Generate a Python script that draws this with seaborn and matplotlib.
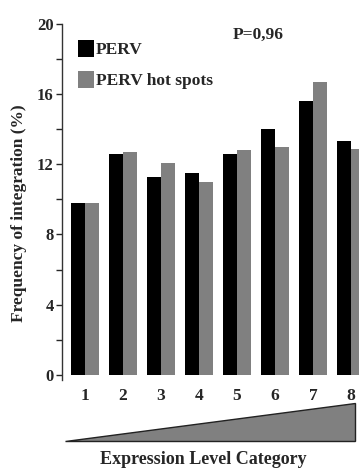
import matplotlib
matplotlib.use("Agg")
import matplotlib.pyplot as plt
from matplotlib.patches import Polygon
from matplotlib.ticker import MultipleLocator
import seaborn as sns
import pandas as pd

# Data
categories = ['1', '2', '3', '4', '5', '6', '7', '8']
perv = [9.8, 12.6, 11.3, 11.5, 12.6, 14.0, 15.6, 13.3]
perv_hot_spots = [9.8, 12.7, 12.1, 11.0, 12.8, 13.0, 16.7, 12.9]
series_names = ['PERV', 'PERV hot spots']
series_colors = ['#000000', '#808080']

df = pd.DataFrame({
    'category': categories * 2,
    'value': perv + perv_hot_spots,
    'series': [series_names[0]] * len(categories) + [series_names[1]] * len(categories),
})

sns.set_style('ticks')
plt.rcParams['font.family'] = ['Liberation Serif', 'DejaVu Serif']
plt.rcParams['font.weight'] = 'bold'

W, H = 359, 468
fig = plt.figure(figsize=(W / 100, H / 100), dpi=100)
ax = fig.add_axes([62 / W, 1 - 380 / H, (W - 62) / W, 356 / H])

sns.barplot(data=df, x='category', y='value', hue='series',
            palette=dict(zip(series_names, series_colors)),
            width=0.74, saturation=1, linewidth=0, ax=ax)

ax.set_xlim(-0.605, 7.21)
ax.set_ylim(-0.3, 20)
ax.yaxis.set_major_locator(MultipleLocator(4))
ax.yaxis.set_minor_locator(MultipleLocator(2))
ax.tick_params(axis='y', which='both', direction='out', length=4, width=1, pad=2,
               labelsize=12)
ax.tick_params(axis='x', length=0, pad=6, labelsize=12.5)
for lbl in ax.get_xticklabels() + ax.get_yticklabels():
    lbl.set_fontweight('bold')

for s in ['top', 'right', 'bottom']:
    ax.spines[s].set_visible(False)
ax.spines['left'].set_linewidth(1)
ax.spines['left'].set_color('#333333')

ax.set_xlabel('')
ax.set_ylabel('Frequency of integration (%)', fontsize=12.5, fontweight='bold')
ax.yaxis.set_label_coords(-0.118, 0.469)

handles, labels = ax.get_legend_handles_labels()
ax.legend(handles, labels, loc='upper left', bbox_to_anchor=(0.03, 0.975),
          frameon=False, handlelength=0.95, handleheight=1.1,
          handletextpad=0.1, labelspacing=0.75, borderaxespad=0,
          prop={'weight': 'bold', 'size': 12.5})

fig.text(233 / W, 1 - 35 / H, 'P=0,96', fontsize=12.5, fontweight='bold',
         ha='left', va='center')

# Expression level wedge under the x axis
tri = Polygon([(65 / W, 1 - 441 / H), (355 / W, 1 - 441 / H), (355 / W, 1 - 403 / H)],
              closed=True, transform=fig.transFigure, facecolor='#808080',
              edgecolor='#222222', linewidth=1)
fig.add_artist(tri)
fig.text(203 / W, 1 - 460 / H, 'Expression Level Category', fontsize=13,
         fontweight='bold', ha='center', va='center')

fig.savefig('out.png', dpi=100, facecolor='white')
